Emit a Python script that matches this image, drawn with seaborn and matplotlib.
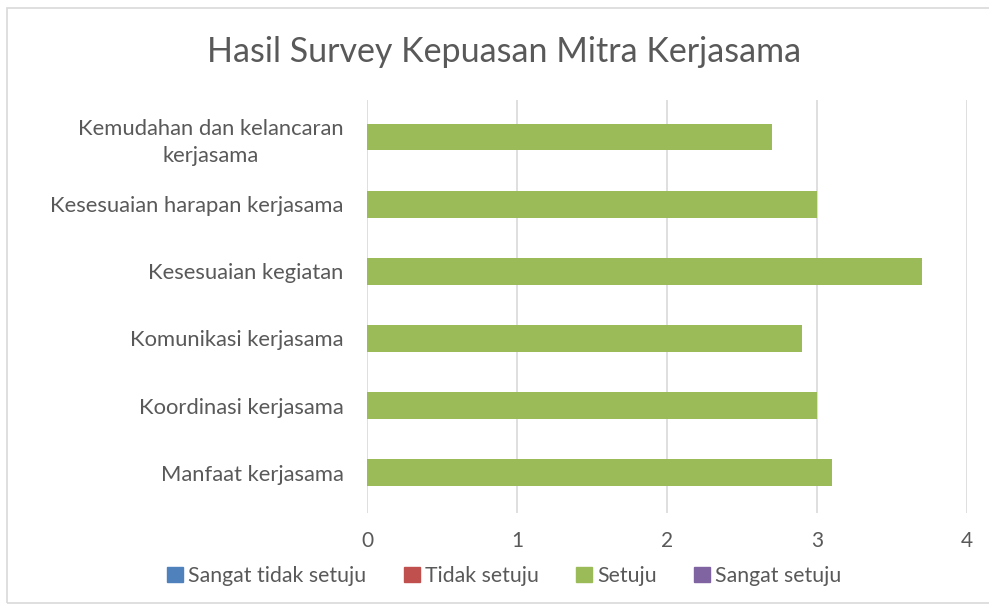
import pandas as pd
import numpy as np
import matplotlib.pyplot as plt
import seaborn as sns
from matplotlib.patches import Rectangle

# Data
kategori = [
    'Kemudahan dan kelancaran\nkerjasama',
    'Kesesuaian harapan kerjasama',
    'Kesesuaian kegiatan',
    'Komunikasi kerjasama',
    'Koordinasi kerjasama',
    'Manfaat kerjasama',
]
seri = ['Sangat tidak setuju', 'Tidak setuju', 'Setuju', 'Sangat setuju']
sangat_tidak_setuju = [0, 0, 0, 0, 0, 0]
tidak_setuju = [0, 0, 0, 0, 0, 0]
setuju = [2.7, 3.0, 3.7, 2.9, 3.0, 3.1]
sangat_setuju = [0, 0, 0, 0, 0, 0]
warna = ['#4f81bd', '#c0504d', '#9bbb59', '#8064a2']

nilai = [sangat_tidak_setuju, tidak_setuju, setuju, sangat_setuju]
df = pd.DataFrame({
    'kategori': np.tile(kategori, len(seri)),
    'seri': np.repeat(seri, len(kategori)),
    'nilai': np.concatenate(nilai),
})

sns.set_theme(style='white')
plt.rcParams['font.family'] = ['Lato', 'DejaVu Sans']
teks = '#595959'

fig = plt.figure(figsize=(9.89, 6.10), dpi=100)
fig.patches.append(Rectangle((7 / 989, 7 / 610), 1.2, 1 - 15 / 610,
                             transform=fig.transFigure, fill=False,
                             edgecolor='#d9d9d9', linewidth=1.2))
ax = fig.add_axes([367 / 989, 1 - 513 / 610, 600 / 989, 413 / 610])

sns.barplot(data=df, x='nilai', y='kategori', hue='seri', hue_order=seri,
            palette=warna, saturation=1, dodge=False, width=0.4,
            linewidth=0, ax=ax)

ax.set_xlim(0, 4)
ax.set_xticks([0, 1, 2, 3, 4])
ax.set_ylim(5.6, -0.55)
ax.grid(axis='x', color='#d9d9d9', linewidth=1.2)
ax.grid(axis='y', visible=False)
ax.set_axisbelow(True)
for s in ax.spines.values():
    s.set_visible(False)
ax.set_xlabel('')
ax.set_ylabel('')
ax.tick_params(axis='x', colors=teks, labelsize=15, pad=13, length=0)
ax.tick_params(axis='y', colors=teks, labelsize=15.8, pad=17, length=0)
for lbl in ax.get_yticklabels():
    lbl.set_multialignment('center')
    lbl.set_linespacing(1.45)

ax.legend_.remove()
handles = [Rectangle((0, 0), 1, 1, color=c) for c in warna]
fig.legend(handles, seri, loc='center', bbox_to_anchor=(0.51, 1 - 576 / 610),
           ncol=4, frameon=False, fontsize=15.3, handlelength=0.75,
           handleheight=0.75, handletextpad=0.25, columnspacing=1.75,
           labelcolor=teks)

fig.text(0.51, 1 - 52 / 610, 'Hasil Survey Kepuasan Mitra Kerjasama',
         ha='center', va='center', fontsize=24.5, color=teks)

plt.savefig('out.png', dpi=100)
plt.close()
